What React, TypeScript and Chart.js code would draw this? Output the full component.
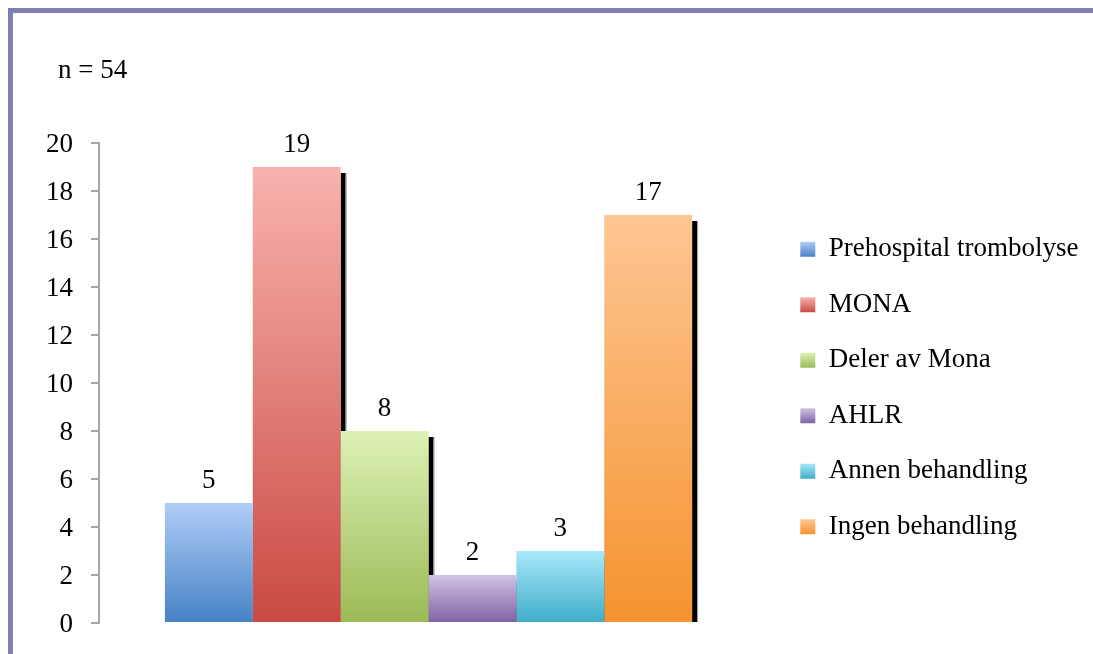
import React, { useEffect, useRef } from 'react';
import { Chart, registerables } from 'chart.js';

Chart.register(...registerables);

// ---- data ----
const treatments = [
  'Prehospital trombolyse',
  'MONA',
  'Deler av Mona',
  'AHLR',
  'Annen behandling',
  'Ingen behandling',
];
const patientCounts = [5, 19, 8, 2, 3, 17];
const sampleSize = 54;
const yTickValues = [0, 2, 4, 6, 8, 10, 12, 14, 16, 18, 20];

// ---- styles ----
const barTopColors = ['#b0cdf8', '#f9b2ae', '#ddf1b5', '#d0c2e5', '#a8e8fa', '#fec694'];
const barBottomColors = ['#4682c4', '#c94a42', '#9bba56', '#7f62a1', '#40adc9', '#f5932f'];
const legendColors = ['#7ba7dd', '#e37e77', '#c0d98b', '#a690c5', '#73cce4', '#f9ad64'];

const FONT_FAMILY = '"Liberation Serif", "Times New Roman", serif';
const FONT_SIZE = 27;
const CANVAS_W = 1150;
const CANVAS_H = 641;
const AXIS_WIDTH = 86;
const PLOT_TOP = 130;
const PLOT_BOTTOM = 610;
const PLOT_RIGHT = 745;
const LEGEND_WIDTH = 200;
const LEGEND_PADDING = 28.5;
const LEGEND_BOX = 15;
const LEGEND_SHIFT_X = 13.8;
const LEGEND_SHIFT_Y = 5;
const FRAME_COLOR = '#7f80b1';

const fontString = `${FONT_SIZE}px ${FONT_FAMILY}`;

// vertical gradient per bar, light at the top, dark at the base
const barFill = (i: number) => (ctx: any) => {
  const chart = ctx.chart;
  const yScale = chart.scales?.y;
  if (ctx.type !== 'data' || !chart.chartArea || !yScale) return legendColors[i];
  const top = yScale.getPixelForValue(ctx.raw as number);
  const base = yScale.getPixelForValue(0);
  if (!isFinite(top) || !isFinite(base) || top === base) return legendColors[i];
  const g = chart.ctx.createLinearGradient(0, top, 0, base);
  g.addColorStop(0, barTopColors[i]);
  g.addColorStop(1, barBottomColors[i]);
  return g;
};

// same gradient for the small legend swatches, placed where the legend stacks them
const legendFill = (chart: any, i: number) => {
  const lg = chart.legend;
  if (!lg || !isFinite(lg.top) || !isFinite(lg.bottom)) return legendColors[i];
  const step = FONT_SIZE + LEGEND_PADDING;
  const colHeight = treatments.length * step;
  const firstY = (lg.top + LEGEND_PADDING + lg.bottom - colHeight) / 2;
  const boxTop = firstY + i * step + (FONT_SIZE - LEGEND_BOX) / 2;
  const g = chart.ctx.createLinearGradient(0, boxTop, 0, boxTop + LEGEND_BOX);
  g.addColorStop(0, barTopColors[i]);
  g.addColorStop(1, barBottomColors[i]);
  return g;
};

// hard black drop shadow on the right side of each bar, painted beneath all bars
const shadowPlugin = {
  id: 'barShadows',
  beforeDatasetsDraw(chart: any) {
    const { ctx } = chart;
    ctx.save();
    chart.getSortedVisibleDatasetMetas().forEach((meta: any) => {
      meta.data.forEach((bar: any) => {
        const { x, y, base, width } = bar.getProps(['x', 'y', 'base', 'width'], true);
        const right = x + width / 2;
        const top = y + 6;
        if (base - top <= 0) return;
        ctx.fillStyle = '#000000';
        ctx.fillRect(right, top, 5, base - top);
        ctx.fillStyle = '#9a9a9a';
        ctx.fillRect(right + 5, top, 1, base - top);
      });
    });
    ctx.restore();
  },
};

// count printed above each bar
const valueLabelPlugin = {
  id: 'valueLabels',
  afterDatasetsDraw(chart: any) {
    const { ctx } = chart;
    ctx.save();
    ctx.font = fontString;
    ctx.fillStyle = '#000000';
    ctx.textAlign = 'center';
    ctx.textBaseline = 'alphabetic';
    chart.getSortedVisibleDatasetMetas().forEach((meta: any) => {
      meta.data.forEach((bar: any, j: number) => {
        const value = chart.data.datasets[meta.index].data[j];
        const { x, y } = bar.getProps(['x', 'y'], true);
        ctx.fillText(String(value), x, y - 15);
      });
    });
    ctx.restore();
  },
};

// sample size note in the upper left corner
const sampleSizePlugin = {
  id: 'sampleSize',
  afterDraw(chart: any) {
    const { ctx } = chart;
    ctx.save();
    ctx.font = fontString;
    ctx.fillStyle = '#000000';
    ctx.textAlign = 'left';
    ctx.textBaseline = 'alphabetic';
    ctx.fillText(`n = ${sampleSize}`, 45, 64.5);
    ctx.restore();
  },
};

// nudge the legend block away from the plot area and let long names run on
const legendOffsetPlugin = {
  id: 'legendOffset',
  afterLayout(chart: any) {
    const lg = chart.legend;
    if (!lg) return;
    lg.left += LEGEND_SHIFT_X;
    lg.right = lg.left + 420;
    lg.top += LEGEND_SHIFT_Y;
    lg.bottom += LEGEND_SHIFT_Y;
  },
};

export default function App() {
  const canvasRef = useRef<HTMLCanvasElement | null>(null);

  useEffect(() => {
    const canvas = canvasRef.current;
    if (!canvas) return;

    const chart = new Chart(canvas, {
      type: 'bar',
      data: {
        labels: [''],
        datasets: treatments.map((label, i) => ({
          label,
          data: [patientCounts[i]],
          backgroundColor: barFill(i),
          borderWidth: 0,
          barPercentage: 1,
          categoryPercentage: 0.8,
        })),
      },
      options: {
        animation: false,
        responsive: false,
        devicePixelRatio: 1,
        layout: {
          padding: {
            left: 0,
            top: PLOT_TOP,
            bottom: CANVAS_H - PLOT_BOTTOM,
            right: CANVAS_W - PLOT_RIGHT - LEGEND_WIDTH,
          },
        },
        scales: {
          x: { display: false },
          y: {
            min: yTickValues[0],
            max: yTickValues[yTickValues.length - 1],
            afterBuildTicks: (scale: any) => {
              scale.ticks = yTickValues.map((v) => ({ value: v }));
            },
            afterFit: (scale: any) => {
              // fixed axis width; the layout padding already leaves room for the end labels
              scale.width = AXIS_WIDTH;
              scale.paddingTop = 0;
              scale.paddingBottom = 0;
            },
            grid: {
              drawOnChartArea: false,
              drawTicks: true,
              tickLength: 8,
              color: '#a6a6a6',
              lineWidth: 2,
            },
            border: { display: true, color: '#a6a6a6', width: 2 },
            ticks: {
              color: '#000000',
              font: { family: FONT_FAMILY, size: FONT_SIZE },
              padding: 18,
              labelOffset: 1.5,
            },
          },
        },
        plugins: {
          tooltip: { enabled: false },
          title: { display: false },
          legend: {
            display: true,
            position: 'right',
            align: 'center',
            maxWidth: LEGEND_WIDTH,
            labels: {
              boxWidth: LEGEND_BOX,
              boxHeight: LEGEND_BOX,
              padding: LEGEND_PADDING,
              color: '#000000',
              font: { family: FONT_FAMILY, size: FONT_SIZE },
              generateLabels: (chart: any) =>
                treatments.map((text, i) => ({
                  text,
                  fillStyle: legendFill(chart, i),
                  strokeStyle: 'rgba(0,0,0,0)',
                  lineWidth: 0,
                  hidden: false,
                  datasetIndex: i,
                  fontColor: '#000000',
                })),
            },
          },
        },
      } as any,
      plugins: [shadowPlugin, valueLabelPlugin, sampleSizePlugin, legendOffsetPlugin],
    });

    return () => chart.destroy();
  }, []);

  return (
    <div
      style={{
        position: 'fixed',
        left: 8,
        top: 8,
        width: 1085,
        height: 646,
        boxSizing: 'border-box',
        borderLeft: `5px solid ${FRAME_COLOR}`,
        borderTop: `5px solid ${FRAME_COLOR}`,
        overflow: 'hidden',
        background: '#ffffff',
      }}
    >
      <canvas
        ref={canvasRef}
        width={CANVAS_W}
        height={CANVAS_H}
        style={{ display: 'block', width: CANVAS_W, height: CANVAS_H }}
      />
    </div>
  );
}
